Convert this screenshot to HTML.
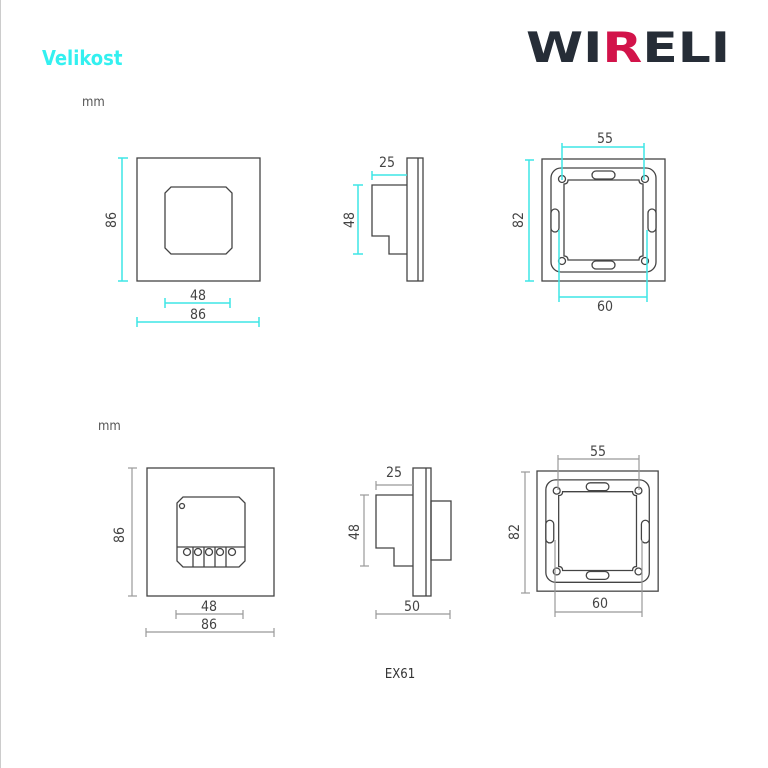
<!DOCTYPE html>
<html><head><meta charset="utf-8"><style>
html,body{margin:0;padding:0;background:#fff;}
svg{display:block;}
text{font-family:"DejaVu Sans Condensed","DejaVu Sans","Liberation Sans",sans-serif;}
</style></head><body>
<svg width="768" height="768" viewBox="0 0 768 768" xmlns="http://www.w3.org/2000/svg">
<defs>
<g id="frame" fill="none" stroke="#444" stroke-width="1.3">
  <rect x="0" y="0" width="123" height="122"/>
  <rect x="9" y="9" width="105" height="104" rx="10"/>
  <path d="M26 21 H97 Q97 25 101 25 V97 Q97 97 97 101 H26 Q26 97 22 97 V25 Q26 25 26 21 Z"/>
  <circle cx="20" cy="20" r="3.5"/><circle cx="103" cy="20" r="3.5"/>
  <circle cx="20" cy="102" r="3.5"/><circle cx="103" cy="102" r="3.5"/>
  <rect x="50" y="12" width="23" height="8" rx="4" fill="#fff"/>
  <rect x="50" y="102" width="23" height="8" rx="4" fill="#fff"/>
  <rect x="9" y="50" width="8" height="23" rx="4" fill="#fff"/>
  <rect x="106" y="50" width="8" height="23" rx="4" fill="#fff"/>
</g>
</defs>
<line x1="0.5" y1="0" x2="0.5" y2="768" stroke="#ccc" stroke-width="1"/>

<text x="42" y="65" font-size="20" font-weight="bold" fill="#33f0f0" font-family="Liberation Sans,sans-serif">Velikost</text>
<text x="82" y="106" font-size="13" fill="#555">mm</text>
<text x="98" y="430" font-size="13" fill="#555">mm</text>

<g font-family="Liberation Sans,sans-serif" font-weight="bold" font-size="42">
<text x="526" y="62" fill="#262d37" textLength="204" lengthAdjust="spacingAndGlyphs">WI<tspan fill="#d2134a">R</tspan>ELI</text>
</g>

<g fill="none" stroke="#444" stroke-width="1.3">
  <rect x="137" y="158" width="123" height="123"/>
  <path d="M171 187 H226 L232 193 V248 L226 254 H171 L165 248 V193 Z"/>
  <rect x="407" y="158" width="16" height="123"/>
  <line x1="418" y1="158" x2="418" y2="281"/>
  <path d="M407 185 H372 V236 H389 V254 H407"/>
</g>
<use href="#frame" x="542" y="159"/>
<g stroke="#3ee6e6" stroke-width="1.5" fill="none">
  <line x1="122" y1="158" x2="122" y2="281"/><line x1="118" y1="158" x2="128" y2="158"/><line x1="118" y1="281" x2="128" y2="281"/>
  <line x1="165" y1="303" x2="230" y2="303"/><line x1="165" y1="298" x2="165" y2="308"/><line x1="230" y1="298" x2="230" y2="308"/>
  <line x1="137" y1="322" x2="259" y2="322"/><line x1="137" y1="317" x2="137" y2="327"/><line x1="259" y1="317" x2="259" y2="327"/>
  <line x1="372" y1="175" x2="407" y2="175"/><line x1="372" y1="171" x2="372" y2="180"/>
  <line x1="358" y1="185" x2="358" y2="254"/><line x1="353" y1="185" x2="363" y2="185"/><line x1="353" y1="254" x2="363" y2="254"/>
  <line x1="562" y1="147" x2="644" y2="147"/><line x1="562" y1="143" x2="562" y2="180"/><line x1="644" y1="143" x2="644" y2="180"/>
  <line x1="559" y1="297" x2="647" y2="297"/><line x1="559" y1="230" x2="559" y2="302"/><line x1="647" y1="230" x2="647" y2="302"/>
  <line x1="529" y1="160" x2="529" y2="281"/><line x1="525" y1="160" x2="534" y2="160"/><line x1="525" y1="281" x2="534" y2="281"/>
</g>
<g font-size="14" fill="#444" text-anchor="middle">
  <text x="0" y="0" transform="translate(116,220) rotate(-90)">86</text>
  <text x="198" y="300">48</text>
  <text x="198" y="319">86</text>
  <text x="387" y="167">25</text>
  <text x="0" y="0" transform="translate(354,220) rotate(-90)">48</text>
  <text x="605" y="143">55</text>
  <text x="605" y="311">60</text>
  <text x="0" y="0" transform="translate(523,220) rotate(-90)">82</text>
</g>

<g fill="none" stroke="#444" stroke-width="1.3">
  <rect x="147" y="468" width="127" height="128"/>
  <path d="M183 497 H239 L245 503 V561 L239 567 H183 L177 561 V503 Z"/>
  <line x1="177" y1="547" x2="245" y2="547"/>
  <line x1="193" y1="547" x2="193" y2="567"/><line x1="204" y1="547" x2="204" y2="567"/><line x1="215" y1="547" x2="215" y2="567"/><line x1="226" y1="547" x2="226" y2="567"/>
  <circle cx="182" cy="506" r="2.5"/>
  <circle cx="187" cy="552" r="3.5"/><circle cx="198" cy="552" r="3.5"/><circle cx="209" cy="552" r="3.5"/><circle cx="220" cy="552" r="3.5"/><circle cx="232" cy="552" r="3.5"/>
  <rect x="413" y="468" width="18" height="128"/>
  <line x1="426" y1="468" x2="426" y2="596"/>
  <path d="M413 495 H376 V548 H394 V566 H413"/>
  <rect x="431" y="501" width="20" height="59"/>
</g>
<use href="#frame" x="537" y="471" transform="translate(537 471) scale(0.985) translate(-537 -471)"/>
<g stroke="#999" stroke-width="1.2" fill="none">
  <line x1="132" y1="468" x2="132" y2="596"/><line x1="128" y1="468" x2="137" y2="468"/><line x1="128" y1="596" x2="137" y2="596"/>
  <line x1="176" y1="614" x2="243" y2="614"/><line x1="176" y1="610" x2="176" y2="619"/><line x1="243" y1="610" x2="243" y2="619"/>
  <line x1="146" y1="632" x2="274" y2="632"/><line x1="146" y1="628" x2="146" y2="637"/><line x1="274" y1="628" x2="274" y2="637"/>
  <line x1="376" y1="485" x2="413" y2="485"/><line x1="376" y1="481" x2="376" y2="490"/>
  <line x1="364" y1="495" x2="364" y2="566"/><line x1="360" y1="495" x2="369" y2="495"/><line x1="360" y1="566" x2="369" y2="566"/>
  <line x1="376" y1="614" x2="450" y2="614"/><line x1="376" y1="610" x2="376" y2="619"/><line x1="450" y1="610" x2="450" y2="619"/>
  <line x1="558" y1="459" x2="639" y2="459"/><line x1="558" y1="455" x2="558" y2="490"/><line x1="639" y1="455" x2="639" y2="490"/>
  <line x1="555" y1="612" x2="642" y2="612"/><line x1="555" y1="540" x2="555" y2="617"/><line x1="642" y1="540" x2="642" y2="617"/>
  <line x1="525" y1="472" x2="525" y2="593"/><line x1="521" y1="472" x2="530" y2="472"/><line x1="521" y1="593" x2="530" y2="593"/>
</g>
<g font-size="14" fill="#444" text-anchor="middle">
  <text x="0" y="0" transform="translate(124,535) rotate(-90)">86</text>
  <text x="209" y="611">48</text>
  <text x="209" y="629">86</text>
  <text x="394" y="477">25</text>
  <text x="0" y="0" transform="translate(359,532) rotate(-90)">48</text>
  <text x="412" y="611">50</text>
  <text x="598" y="456">55</text>
  <text x="600" y="608">60</text>
  <text x="0" y="0" transform="translate(519,532) rotate(-90)">82</text>
  <text x="400" y="678" font-size="13" fill="#333">EX61</text>
</g>
</svg>
</body></html>
